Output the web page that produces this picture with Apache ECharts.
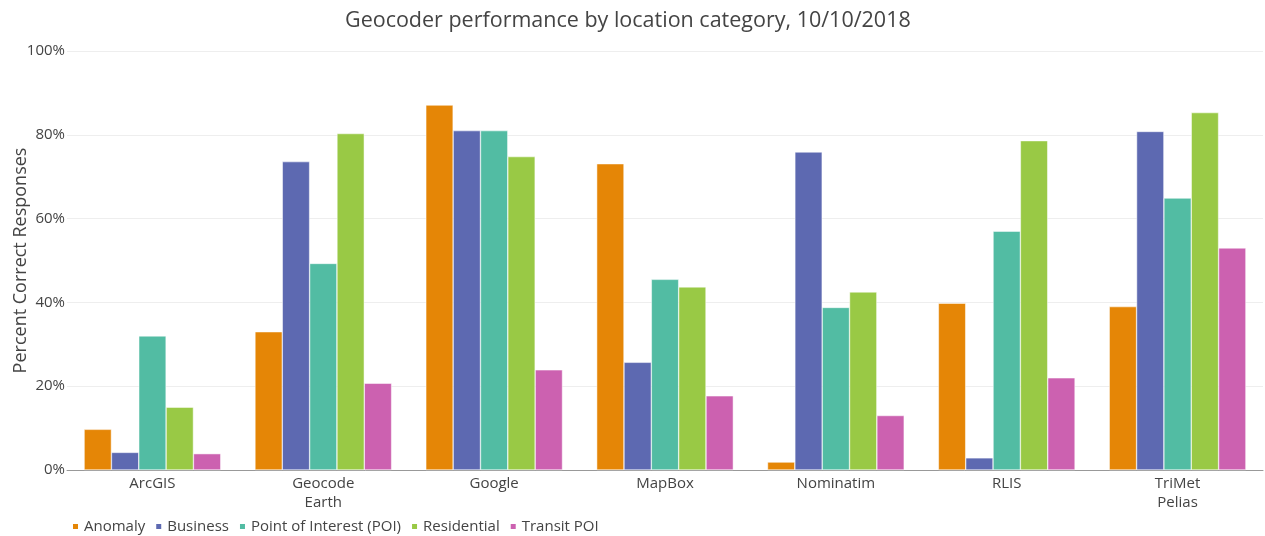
<!DOCTYPE html>
<html><head><meta charset="utf-8">
<script src="https://cdn.jsdelivr.net/npm/echarts@6/dist/echarts.min.js"></script>
<style>html,body{margin:0;padding:0;background:#fff}#c{width:1265px;height:536px}</style>
</head><body><div id="c"></div>
<script>
const categories = ["ArcGIS", "Geocode\nEarth", "Google", "MapBox", "Nominatim", "RLIS", "TriMet\nPelias"];
const anomaly     = [9.7, 33.0, 87.1, 73.1, 1.9, 39.8, 39.0];
const business    = [4.2, 73.6, 81.0, 25.7, 75.9, 2.9, 80.8];
const poi         = [32.0, 49.3, 81.0, 45.5, 38.8, 57.0, 64.9];
const residential = [15.0, 80.3, 74.8, 43.7, 42.5, 78.6, 85.3];
const transit     = [3.9, 20.7, 23.9, 17.7, 13.0, 22.0, 53.0];
const seriesNames = ["Anomaly", "Business", "Point of Interest (POI)", "Residential", "Transit POI"];
const colors = ["#E58606", "#5D69B1", "#52BCA3", "#99C945", "#CC61B0"];
const values = [anomaly, business, poi, residential, transit];

const font = "'Open Sans', sans-serif";
const chart = echarts.init(document.getElementById('c'), null, {renderer: 'canvas'});
chart.setOption({
  animation: false,
  color: colors,
  textStyle: {fontFamily: font},
  title: {
    text: "Geocoder performance by location category, 10/10/2018",
    left: 340, top: 5,
    textStyle: {fontFamily: font, fontSize: 21.5, fontWeight: 'normal', color: '#444'}
  },
  legend: {
    left: 66, top: 514,
    itemWidth: 7, itemHeight: 7, itemGap: 9,
    icon: 'rect',
    textStyle: {fontFamily: font, fontSize: 15, color: '#444', padding: [0, 0, 0, 0]},
    data: seriesNames
  },
  grid: {left: 67, right: 2, top: 51, bottom: 66, containLabel: false, outerBoundsMode: 'none'},
  xAxis: {
    type: 'category', data: categories,
    axisLine: {lineStyle: {color: '#999', width: 1}},
    axisTick: {show: false},
    axisLabel: {fontFamily: font, fontSize: 15, color: '#444', margin: 4, lineHeight: 19}
  },
  yAxis: {
    type: 'value', min: 0, max: 100, interval: 20,
    name: "Percent Correct Responses", nameLocation: 'middle', nameGap: 37, nameRotate: 90,
    nameMoveOverlap: false,
    nameTextStyle: {fontFamily: font, fontSize: 18, color: '#444'},
    axisLine: {show: false}, axisTick: {show: false},
    axisLabel: {fontFamily: font, fontSize: 15, color: '#444', margin: 2, formatter: '{value}%'},
    splitLine: {lineStyle: {color: '#eee', width: 1}}
  },
  series: seriesNames.map((n, i) => ({
    name: n, type: 'bar', data: values[i],
    barGap: '0%', barCategoryGap: '20%',
    itemStyle: {color: colors[i], borderColor: '#fff', borderWidth: 0.5}
  }))
});
</script></body></html>
